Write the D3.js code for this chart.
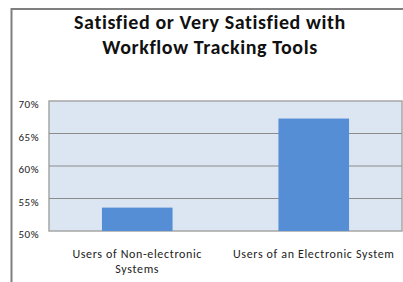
<!DOCTYPE html>
<html><head><meta charset="utf-8">
<script src="https://cdn.jsdelivr.net/npm/d3@7"></script>
<style>html,body{margin:0;padding:0;background:#fff;}svg{display:block;}</style>
</head><body>
<script>
const categories = [["Users of Non-electronic", "Systems"], ["Users of an Electronic System"]];
const values = [53.6, 67.3];
const yTicks = [50, 55, 60, 65, 70];
const titleLines = ["Satisfied or Very Satisfied with", "Workflow Tracking Tools"];

const W = 403, H = 282;
const svg = d3.select("body").append("svg").attr("width", W).attr("height", H);
const font = "Carlito, Calibri, Lato, sans-serif";

// outer frame
svg.append("path").attr("d", `M11.5,${H} V9 H${W}`).attr("fill", "none").attr("stroke", "#7f7f7f").attr("stroke-width", 2);

const plot = {l: 49, r: 402, t: 101, b: 231};
const x = d3.scaleBand().domain(d3.range(categories.length)).range([plot.l, plot.r]).paddingInner(0.6).paddingOuter(0.3);
const y = d3.scaleLinear().domain([50, 70]).range([plot.b, plot.t]);

svg.append("rect").attr("x", plot.l).attr("y", plot.t).attr("width", plot.r - plot.l).attr("height", plot.b - plot.t)
  .attr("fill", "#dce6f2").attr("stroke", "#a6a6a6").attr("stroke-width", 1.5);

svg.append("g").selectAll("line").data(yTicks.slice(1, -1)).join("line")
  .attr("x1", plot.l).attr("x2", plot.r).attr("y1", d => y(d)).attr("y2", d => y(d))
  .attr("stroke", "#8c8c8c").attr("stroke-width", 1.2);

svg.append("g").selectAll("rect").data(values).join("rect")
  .attr("x", (d, i) => x(i)).attr("width", x.bandwidth())
  .attr("y", d => y(d)).attr("height", d => y(50) - y(d))
  .attr("fill", "#558ed5");

svg.append("g").selectAll("text").data(yTicks).join("text")
  .attr("x", 39).attr("y", d => y(d) + 7).attr("text-anchor", "end")
  .attr("font-family", font).attr("font-size", 11).attr("letter-spacing", 0.5).attr("fill", "#222")
  .text(d => d + "%");

const cat = svg.append("g").selectAll("text").data(categories).join("text")
  .attr("x", (d, i) => x(i) + x.bandwidth() / 2).attr("y", 258).attr("text-anchor", "middle")
  .attr("font-family", font).attr("font-size", 12).attr("letter-spacing", 0.65).attr("fill", "#222");
cat.selectAll("tspan").data(d => d).join("tspan")
  .attr("x", function() { return this.parentNode.getAttribute("x"); })
  .attr("dy", (d, i) => i ? 15 : 0).text(d => d);

svg.append("g").selectAll("text").data(titleLines).join("text")
  .attr("x", 210).attr("y", (d, i) => 29 + i * 25).attr("text-anchor", "middle")
  .attr("font-family", font).attr("font-size", 20).attr("letter-spacing", 0.6).attr("font-weight", "bold").attr("fill", "#111")
  .text(d => d);
</script>
</body></html>
